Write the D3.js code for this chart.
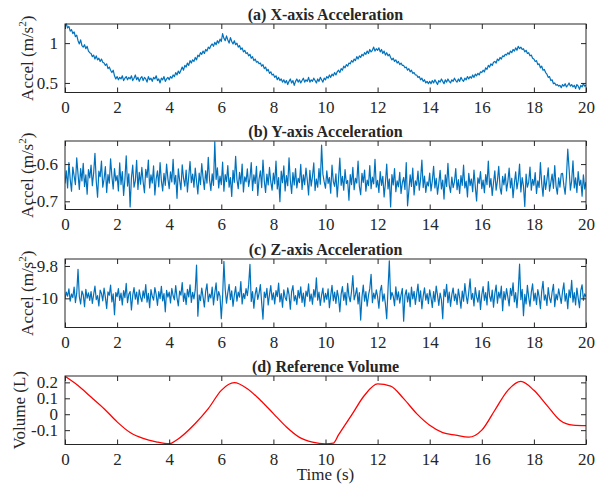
<!DOCTYPE html>
<html>
<head>
<meta charset="utf-8">
<script src="https://cdn.jsdelivr.net/npm/d3@7"></script>
<style>
  body { margin: 0; background: #fff; }
  svg text { font-family: "Times New Roman", "Liberation Serif", serif; fill: #262626; }
</style>
</head>
<body>
<div id="chart"></div>
<script>
const width = 595;
const height = 491;

// sample spacing of the accelerometer records (s)
const sampleStep = 0.05;

const xTicks = [0, 2, 4, 6, 8, 10, 12, 14, 16, 18, 20];

const titles = ["(a) X-axis Acceleration", "(b) Y-axis Acceleration", "(c) Z-axis Acceleration", "(d) Reference Volume"];

const accelX = [
  1.22,1.24,1.19,1.21,1.15,1.17,1.12,1.14,1.08,1.10,
  1.03,0.99,1.04,0.97,0.95,0.98,0.93,0.96,0.90,0.88,
  0.87,0.83,0.85,0.80,0.84,0.79,0.81,0.77,0.80,0.76,
  0.75,0.72,0.74,0.68,0.70,0.66,0.63,0.66,0.59,0.55,
  0.58,0.54,0.57,0.55,0.59,0.53,0.56,0.58,0.54,0.57,
  0.55,0.59,0.53,0.56,0.60,0.54,0.57,0.52,0.56,0.58,
  0.53,0.57,0.55,0.51,0.58,0.54,0.56,0.52,0.57,0.55,
  0.59,0.53,0.55,0.50,0.56,0.54,0.58,0.52,0.55,0.57,
  0.54,0.58,0.56,0.60,0.58,0.63,0.60,0.65,0.62,0.66,
  0.70,0.66,0.72,0.70,0.75,0.72,0.78,0.75,0.79,0.77,
  0.82,0.79,0.85,0.83,0.88,0.86,0.90,0.87,0.92,0.90,
  0.95,0.93,0.97,0.99,0.96,1.01,0.98,1.03,1.00,1.05,
  1.02,1.12,1.06,1.03,1.09,1.04,1.00,1.07,1.02,0.99,
  1.03,0.98,1.00,0.95,0.97,0.92,0.94,0.89,0.91,0.87,
  0.88,0.84,0.86,0.81,0.83,0.78,0.80,0.76,0.77,0.74,
  0.75,0.71,0.73,0.68,0.70,0.65,0.67,0.62,0.64,0.60,
  0.61,0.57,0.59,0.54,0.57,0.53,0.55,0.51,0.54,0.50,
  0.53,0.48,0.52,0.55,0.50,0.53,0.47,0.52,0.55,0.51,
  0.54,0.50,0.53,0.56,0.51,0.54,0.52,0.57,0.51,0.54,
  0.52,0.56,0.53,0.50,0.55,0.52,0.57,0.54,0.51,0.56,
  0.54,0.58,0.56,0.60,0.57,0.61,0.59,0.63,0.60,0.64,
  0.66,0.63,0.68,0.66,0.71,0.69,0.73,0.71,0.75,0.74,
  0.78,0.76,0.80,0.78,0.83,0.80,0.84,0.82,0.86,0.84,
  0.88,0.86,0.90,0.87,0.92,0.89,0.91,0.95,0.90,0.93,
  0.91,0.94,0.89,0.92,0.87,0.90,0.85,0.88,0.84,0.86,
  0.82,0.79,0.81,0.77,0.79,0.75,0.77,0.73,0.75,0.72,
  0.72,0.69,0.70,0.66,0.68,0.64,0.66,0.62,0.63,0.60,
  0.60,0.57,0.58,0.54,0.56,0.52,0.54,0.50,0.52,0.49,
  0.52,0.49,0.53,0.50,0.54,0.51,0.48,0.53,0.51,0.55,
  0.52,0.49,0.54,0.51,0.55,0.52,0.50,0.54,0.52,0.56,
  0.53,0.51,0.55,0.52,0.57,0.54,0.52,0.56,0.54,0.58,
  0.55,0.58,0.56,0.60,0.57,0.61,0.59,0.62,0.60,0.64,
  0.63,0.66,0.64,0.69,0.67,0.72,0.70,0.74,0.72,0.76,
  0.77,0.75,0.80,0.78,0.82,0.80,0.84,0.83,0.86,0.85,
  0.88,0.86,0.90,0.88,0.92,0.90,0.94,0.91,0.96,0.93,
  0.95,0.92,0.93,0.89,0.91,0.87,0.88,0.84,0.85,0.81,
  0.80,0.77,0.78,0.73,0.74,0.69,0.71,0.66,0.67,0.63,
  0.61,0.57,0.58,0.53,0.54,0.49,0.50,0.47,0.48,0.46,
  0.47,0.44,0.48,0.46,0.49,0.45,0.47,0.50,0.46,0.48,
  0.45,0.47,0.43,0.48,0.46,0.42,0.47,0.45,0.49,0.46,
  0.47
];

const accelY = [
  -.652,-.618,-.664,-.596,-.641,-.673,-.608,-.632,-.655,-.583,-.627,-.668,-.612,-.645,-.598,-.660,-.629,-.681,-.615,-.637,
  -.603,-.658,-.624,-.571,-.646,-.689,-.619,-.634,-.592,-.662,-.640,-.607,-.676,-.628,-.651,-.586,-.633,-.667,-.612,-.645,
  -.631,-.672,-.597,-.655,-.620,-.684,-.641,-.578,-.659,-.626,-.715,-.637,-.603,-.662,-.645,-.590,-.668,-.622,-.654,-.609,
  -.648,-.677,-.614,-.636,-.589,-.664,-.629,-.651,-.605,-.683,-.640,-.618,-.661,-.596,-.645,-.672,-.625,-.657,-.600,-.639,
  -.666,-.621,-.648,-.587,-.654,-.630,-.692,-.613,-.644,-.669,-.602,-.638,-.659,-.616,-.675,-.633,-.593,-.650,-.627,-.662,
  -.611,-.646,-.680,-.624,-.655,-.599,-.637,-.668,-.618,-.651,-.582,-.643,-.671,-.626,-.657,-.540,-.641,-.610,-.664,-.632,
  -.655,-.595,-.673,-.628,-.647,-.604,-.662,-.636,-.687,-.617,-.649,-.579,-.641,-.666,-.622,-.653,-.600,-.675,-.634,-.648,
  -.613,-.660,-.638,-.596,-.671,-.629,-.652,-.606,-.684,-.640,-.618,-.663,-.589,-.645,-.676,-.627,-.656,-.609,-.648,-.670,
  -.624,-.653,-.592,-.667,-.636,-.701,-.619,-.650,-.605,-.672,-.631,-.658,-.583,-.644,-.679,-.623,-.656,-.612,-.664,-.638,
  -.650,-.601,-.668,-.629,-.655,-.611,-.642,-.683,-.617,-.659,-.633,-.597,-.671,-.640,-.662,-.612,-.654,-.549,-.627,-.648,
  -.665,-.618,-.652,-.636,-.678,-.603,-.647,-.660,-.626,-.688,-.641,-.584,-.657,-.633,-.670,-.615,-.652,-.644,-.697,-.628,
  -.655,-.609,-.669,-.638,-.651,-.592,-.660,-.682,-.625,-.649,-.616,-.673,-.643,-.658,-.604,-.666,-.635,-.653,-.587,-.662,
  -.644,-.676,-.620,-.657,-.633,-.688,-.651,-.600,-.667,-.640,-.715,-.628,-.656,-.612,-.674,-.645,-.661,-.622,-.679,-.650,
  -.636,-.668,-.596,-.712,-.672,-.629,-.660,-.611,-.683,-.645,-.657,-.619,-.670,-.641,-.589,-.663,-.632,-.676,-.648,-.659,
  -.624,-.672,-.645,-.606,-.664,-.638,-.681,-.652,-.617,-.667,-.643,-.694,-.629,-.660,-.598,-.657,-.676,-.635,-.663,-.648,
  -.612,-.669,-.642,-.679,-.631,-.657,-.603,-.664,-.646,-.688,-.625,-.658,-.640,-.674,-.616,-.661,-.699,-.637,-.652,-.620,
  -.666,-.643,-.677,-.628,-.655,-.592,-.662,-.639,-.684,-.650,-.618,-.670,-.645,-.606,-.663,-.681,-.633,-.656,-.626,-.672,
  -.647,-.611,-.664,-.638,-.690,-.652,-.621,-.667,-.644,-.600,-.675,-.636,-.659,-.714,-.627,-.662,-.649,-.608,-.670,-.641,
  -.657,-.623,-.679,-.645,-.663,-.596,-.652,-.686,-.631,-.668,-.642,-.610,-.673,-.650,-.627,-.665,-.604,-.659,-.681,-.637,
  -.662,-.626,-.625,-.658,-.681,-.633,-.560,-.612,-.670,-.645,-.591,-.664,-.637,-.676,-.620,-.657,-.643,-.686,-.629,-.667,
  -.648
];

const accelZ = [
  -10.004,-9.962,-9.987,-9.941,-10.018,-9.973,-9.995,-9.930,-10.026,-9.968,-9.821,-9.990,-10.035,-9.955,-9.978,-10.052,-9.944,-9.999,-9.966,-10.012,
  -9.958,-10.031,-9.976,-9.925,-10.008,-9.983,-10.047,-9.949,-9.970,-10.015,-9.937,-9.994,-10.062,-9.960,-9.981,-9.918,-10.022,-9.972,-10.101,-9.964,
  -9.989,-9.940,-10.013,-9.967,-10.040,-9.952,-9.996,-9.908,-10.027,-9.975,-9.958,-10.071,-9.982,-9.934,-10.005,-9.961,-10.036,-9.947,-9.992,-10.020,
  -9.954,-9.998,-9.915,-10.024,-9.969,-10.058,-9.946,-9.987,-10.011,-9.933,-9.977,-10.043,-9.959,-10.002,-9.926,-10.016,-9.971,-10.083,-9.950,-9.993,
  -9.962,-10.028,-9.939,-9.984,-10.009,-9.921,-9.997,-10.046,-9.955,-9.980,-9.902,-10.019,-9.968,-10.037,-9.944,-9.991,-9.917,-10.025,-9.963,-10.004,
  -9.948,-9.795,-10.110,-9.979,-10.014,-9.936,-9.992,-10.053,-9.957,-9.910,-10.021,-9.974,-9.998,-9.931,-10.040,-9.966,-9.905,-10.012,-9.959,-9.986,
  -10.125,-9.990,-9.772,-9.944,-10.030,-9.965,-9.914,-10.008,-9.953,-10.049,-9.981,-9.927,-10.017,-9.962,-9.993,-9.896,-10.034,-9.970,-10.002,-9.940,
  -9.983,-9.917,-9.790,-10.019,-9.958,-10.061,-9.975,-9.934,-10.006,-9.969,-9.915,-10.028,-10.128,-9.961,-9.996,-9.938,-10.041,-9.976,-9.921,-10.009,
  -9.966,-10.035,-9.952,-9.989,-9.906,-10.022,-9.971,-10.054,-9.947,-9.994,-10.013,-9.935,-9.977,-10.067,-9.958,-9.921,-10.016,-9.983,-10.038,-9.950,
  -9.998,-9.929,-10.025,-9.967,-10.049,-9.955,-9.988,-9.911,-10.018,-9.973,-10.036,-9.946,-9.992,-9.873,-10.011,-9.962,-10.044,-9.980,-9.937,-10.023,
  -9.969,-10.007,-9.942,-10.058,-9.984,-9.920,-10.015,-9.961,-10.031,-9.951,-9.995,-10.083,-9.974,-9.928,-10.012,-9.963,-10.040,-9.908,-9.987,-10.021,
  -9.956,-9.860,-10.009,-9.977,-9.935,-10.034,-9.965,-10.134,-9.992,-9.918,-10.017,-9.959,-10.048,-9.982,-9.940,-9.852,-10.026,-9.968,-10.003,-9.947,
  -9.990,-10.061,-9.955,-9.920,-10.018,-9.972,-10.036,-10.125,-9.942,-9.768,-10.006,-9.963,-9.987,-10.045,-9.929,-10.010,-9.960,-10.029,-9.978,-9.939,
  -10.141,-9.983,-9.948,-10.022,-9.966,-10.052,-9.931,-10.004,-9.957,-10.037,-9.974,-9.912,-10.019,-9.953,-10.064,-9.986,-9.935,-10.011,-9.970,-10.033,
  -9.948,-9.995,-10.056,-9.958,-10.021,-9.924,-9.981,-10.043,-9.967,-10.008,-10.126,-9.945,-9.990,-9.914,-10.027,-9.962,-10.049,-9.977,-9.936,-10.014,
  -9.973,-10.038,-9.943,-9.996,-10.061,-9.955,-10.017,-9.909,-9.984,-10.032,-9.960,-9.880,-10.006,-9.969,-10.047,-9.934,-9.991,-10.023,-9.952,-10.068,
  -9.978,-9.927,-10.013,-9.965,-10.041,-9.897,-9.987,-10.019,-9.949,-10.054,-9.971,-9.918,-10.030,-9.961,-9.999,-9.925,-10.076,-9.958,-10.010,-9.940,
  -9.992,-10.046,-9.939,-9.984,-9.904,-10.022,-9.965,-10.058,-9.951,-9.789,-10.008,-9.944,-10.107,-9.976,-10.035,-9.920,-9.993,-10.049,-9.963,-9.911,
  -10.015,-9.968,-10.037,-9.946,-9.990,-10.063,-9.957,-9.895,-10.011,-9.979,-10.044,-9.934,-9.998,-10.026,-9.961,-9.913,-10.052,-9.974,-10.009,-9.942,
  -9.986,-10.031,-9.957,-9.905,-10.018,-9.970,-10.064,-9.948,-9.995,-9.889,-10.024,-9.965,-10.040,-9.936,-9.999,-10.057,-9.953,-9.916,-10.012,-9.972,
  -9.990
];

// reference volume, read every 0.5 s
const volumeTime = [0,0.5,1,1.5,2,2.5,3,3.5,4,4.3,5,5.5,6,6.5,7,7.5,8,8.5,9,9.5,10,10.3,10.5,11,11.5,12,12.5,13,13.5,14,14.5,15,15.5,16,16.5,17,17.5,18,18.5,19,19.5,20];
const volume = [0.238,0.180,0.108,0.035,-0.048,-0.115,-0.152,-0.173,-0.185,-0.160,-0.058,0.035,0.150,0.198,0.160,0.088,0.004,-0.080,-0.145,-0.175,-0.186,-0.182,-0.130,-0.006,0.119,0.190,0.177,0.098,0.004,-0.069,-0.115,-0.131,-0.144,-0.100,0.025,0.150,0.206,0.150,0.056,-0.038,-0.069,-0.072];

const yTicksA = [0.5, 1],            yLabelsA = ["0.5", "1"];
const yTicksB = [-0.7, -0.6],        yLabelsB = ["-0.7", "-0.6"];
const yTicksC = [-10, -9.8],         yLabelsC = ["-10", "-9.8"];
const yTicksD = [-0.1, 0, 0.1, 0.2], yLabelsD = ["-0.1", "0", "0.1", "0.2"];

const panels = [
  { top: 24,  series: accelX, domain: [0.38, 1.24],     ticks: yTicksA, labels: yLabelsA, color: "#0072BD", ylab: "accel", labX: 33 },
  { top: 141, series: accelY, domain: [-0.722, -0.538], ticks: yTicksB, labels: yLabelsB, color: "#0072BD", ylab: "accel", labX: 33 },
  { top: 259, series: accelZ, domain: [-10.18, -9.757], ticks: yTicksC, labels: yLabelsC, color: "#0072BD", ylab: "accel", labX: 33 },
  { top: 376, series: volume, domain: [-0.19, 0.24],    ticks: yTicksD, labels: yLabelsD, color: "#FF0000", ylab: "volume", labX: 25 }
];

const left = 65, right = 586, panelH = 68.5;
const axisColor = "#262626";

const svg = d3.select('#chart').append('svg')
  .attr('width', width)
  .attr('height', height);

const x = d3.scaleLinear().domain([0, 20]).range([left, right]);

panels.forEach((p, k) => {
  const y = d3.scaleLinear().domain(p.domain).range([p.top + panelH, p.top]);
  const g = svg.append('g');

  const clipId = 'clip' + k;
  g.append('clipPath').attr('id', clipId)
    .append('rect').attr('x', left).attr('y', p.top - 1).attr('width', right - left).attr('height', panelH + 2);

  // data line
  let pts;
  if (p.ylab === "volume") {
    pts = volumeTime.map((t, i) => [t, volume[i]]);
  } else {
    pts = p.series.map((v, i) => [i * sampleStep, v]);
  }
  const line = d3.line()
    .x(d => x(d[0]))
    .y(d => y(d[1]));
  if (p.ylab === "volume") line.curve(d3.curveMonotoneX);

  g.append('path')
    .datum(pts)
    .attr('clip-path', `url(#${clipId})`)
    .attr('fill', 'none')
    .attr('stroke', p.color)
    .attr('stroke-width', p.ylab === "volume" ? 1.3 : 1.2)
    .attr('stroke-linejoin', 'round')
    .attr('d', line);

  // axes, ticks pointing inward
  const bottom = g.append('g').attr('transform', `translate(0,${p.top + panelH})`)
    .call(d3.axisBottom(x).tickValues(xTicks).tickSizeInner(-5).tickSizeOuter(0).tickPadding(8).tickFormat(d3.format('d')));
  const top = g.append('g').attr('transform', `translate(0,${p.top})`)
    .call(d3.axisTop(x).tickValues(xTicks).tickSizeInner(-5).tickSizeOuter(0).tickFormat(''));
  const leftAx = g.append('g').attr('transform', `translate(${left},0)`)
    .call(d3.axisLeft(y).tickValues(p.ticks).tickSizeInner(-5).tickSizeOuter(0).tickPadding(7)
      .tickFormat((d, i) => p.labels[i]));
  const rightAx = g.append('g').attr('transform', `translate(${right},0)`)
    .call(d3.axisRight(y).tickValues(p.ticks).tickSizeInner(-5).tickSizeOuter(0).tickFormat(''));

  [bottom, top, leftAx, rightAx].forEach(a => {
    a.select('.domain').remove();
    a.selectAll('line').attr('stroke', axisColor);
    a.selectAll('text').attr('font-size', 17).attr('fill', axisColor)
      .attr('font-family', '"Times New Roman", "Liberation Serif", serif');
  });

  g.append('rect')
    .attr('x', left).attr('y', p.top)
    .attr('width', right - left).attr('height', panelH)
    .attr('fill', 'none').attr('stroke', axisColor).attr('stroke-width', 1);

  // title
  g.append('text')
    .attr('x', (left + right) / 2).attr('y', p.top - 4)
    .attr('text-anchor', 'middle')
    .attr('font-size', 16).attr('font-weight', 'bold').attr('fill', '#000')
    .text(titles[k]);

  // y label
  const lab = g.append('text')
    .attr('transform', `translate(${p.labX},${p.top + panelH / 2}) rotate(-90)`)
    .attr('text-anchor', 'middle')
    .attr('font-size', 17);
  if (p.ylab === "volume") {
    lab.text('Volume (L)');
  } else {
    lab.append('tspan').text('Accel (m/s');
    lab.append('tspan').attr('font-size', 11).attr('dy', -7).text('2');
    lab.append('tspan').attr('dy', 7).text(')');
  }
});

svg.append('text')
  .attr('x', (left + right) / 2).attr('y', 480)
  .attr('text-anchor', 'middle')
  .attr('font-size', 17)
  .text('Time (s)');
</script>
</body>
</html>
